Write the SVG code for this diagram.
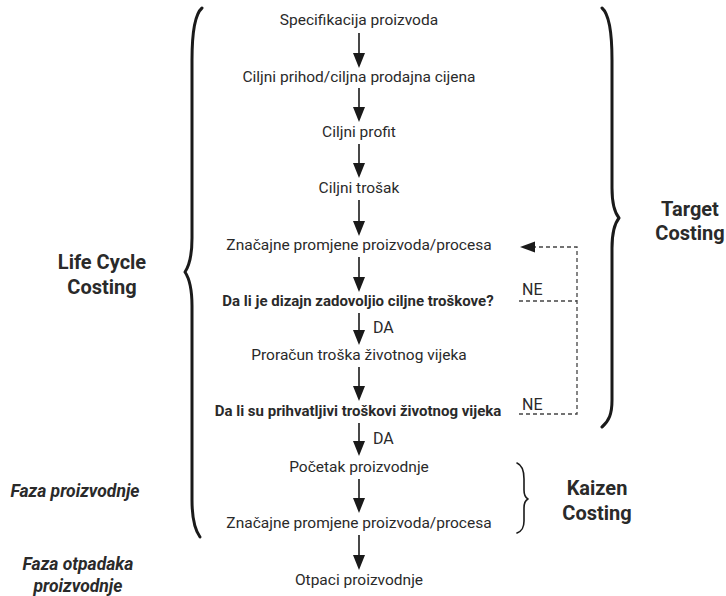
<svg xmlns="http://www.w3.org/2000/svg" width="726" height="596" viewBox="0 0 726 596">
<style>
  .t { font-family: Roboto, "Liberation Sans", sans-serif; font-size: 15.5px; fill: #2a2a2a; text-anchor: middle; }
  .b { font-weight: bold; font-size: 15px; }
  .lbl { font-family: Roboto, "Liberation Sans", sans-serif; font-size: 16px; fill: #2a2a2a; }
  .big { font-family: Roboto, "Liberation Sans", sans-serif; font-size: 20px; font-weight: bold; fill: #2a2a2a; text-anchor: middle; }
  .it { font-family: Roboto, "Liberation Sans", sans-serif; font-size: 17.5px; font-weight: bold; font-style: italic; fill: #2a2a2a; text-anchor: middle; }
  .ln { stroke: #1a1a1a; stroke-width: 1.6; fill: none; }
  .hd { fill: #1a1a1a; }
  .dash { stroke: #444; stroke-width: 1.3; fill: none; stroke-dasharray: 4 3; }
  .brace { stroke: #1a1a1a; fill: none; stroke-linecap: round; stroke-linejoin: round; }
</style>
<rect width="726" height="596" fill="#fff"/>

<g id="connectors">
  <path class="ln" d="M359,33 V58"/><path class="hd" d="M353,53 L365,53 L359,68 Z"/>
  <path class="ln" d="M359,88 V112"/><path class="hd" d="M353,107 L365,107 L359,122 Z"/>
  <path class="ln" d="M359,144 V168"/><path class="hd" d="M353,163 L365,163 L359,178 Z"/>
  <path class="ln" d="M359,200 V226"/><path class="hd" d="M353,221 L365,221 L359,236 Z"/>
  <path class="ln" d="M359,257 V282"/><path class="hd" d="M353,277 L365,277 L359,292 Z"/>
  <path class="ln" d="M359,313 V335"/><path class="hd" d="M353,330 L365,330 L359,345 Z"/>
  <path class="ln" d="M359,367 V391"/><path class="hd" d="M353,386 L365,386 L359,401 Z"/>
  <path class="ln" d="M359,423 V446"/><path class="hd" d="M353,441 L365,441 L359,456 Z"/>
  <path class="ln" d="M359,479 V503"/><path class="hd" d="M353,498 L365,498 L359,513 Z"/>
  <path class="ln" d="M359,535 V560"/><path class="hd" d="M353,555 L365,555 L359,570 Z"/>

  <path class="dash" d="M519,301 H577"/>
  <path class="dash" d="M519,414 H577 V247 H533"/>
  <path class="hd" d="M520,247 L535,241.5 L535,252.5 Z"/>
</g>

<g id="nodes">
  <g id="n1"><text class="t" x="359" y="25">Specifikacija proizvoda</text></g>
  <g id="n2"><text class="t" x="359" y="82">Ciljni prihod/ciljna prodajna cijena</text></g>
  <g id="n3"><text class="t" x="359" y="137">Ciljni profit</text></g>
  <g id="n4"><text class="t" x="359" y="193">Ciljni trošak</text></g>
  <g id="n5"><text class="t" x="359" y="250">Značajne promjene proizvoda/procesa</text></g>
  <g id="n6"><text class="t b" x="358" y="306">Da li je dizajn zadovoljio ciljne troškove?</text></g>
  <g id="n7"><text class="t" x="359" y="360">Proračun troška životnog vijeka</text></g>
  <g id="n8"><text class="t b" x="358" y="416">Da li su prihvatljivi troškovi životnog vijeka</text></g>
  <g id="n9"><text class="t" x="359" y="472">Početak proizvodnje</text></g>
  <g id="n10"><text class="t" x="359" y="528">Značajne promjene proizvoda/procesa</text></g>
  <g id="n11"><text class="t" x="359" y="585">Otpaci proizvodnje</text></g>
</g>

<g id="labels">
  <text class="lbl" x="373" y="333">DA</text>
  <text class="lbl" x="373" y="444">DA</text>
  <text class="lbl" x="522" y="295">NE</text>
  <text class="lbl" x="522" y="410">NE</text>
</g>

<g id="brace-lifecycle">
  <path class="brace" stroke-width="3" d="M202,8 C195,14 192,30 192,60 L192,238 C192,258 189,266 185,272 C189,278 192,286 192,306 L192,500 C192,520 195,530 200,537"/>
  <text class="big" x="102" y="269">Life Cycle</text>
  <text class="big" x="102" y="294">Costing</text>
</g>

<g id="brace-target">
  <path class="brace" stroke-width="3" d="M602,8 C609,14 612,30 612,60 L612,188 C612,206 615,213 619,218 C615,223 612,230 612,248 L612,400 C612,414 609,421 602,427"/>
  <text class="big" x="690" y="216">Target</text>
  <text class="big" x="690" y="240">Costing</text>
</g>

<g id="brace-kaizen">
  <path class="brace" stroke-width="1.6" d="M517,463 C522,465 524,471 524,479 L524,490 C524,495 526,498 528,499 C526,500 524,503 524,508 L524,521 C524,528 522,531 517,533"/>
  <text class="big" x="597" y="495">Kaizen</text>
  <text class="big" x="597" y="520">Costing</text>
</g>

<g id="phases">
  <text class="it" x="75" y="497">Faza proizvodnje</text>
  <text class="it" x="78" y="570">Faza otpadaka</text>
  <text class="it" x="78" y="592">proizvodnje</text>
</g>
</svg>
